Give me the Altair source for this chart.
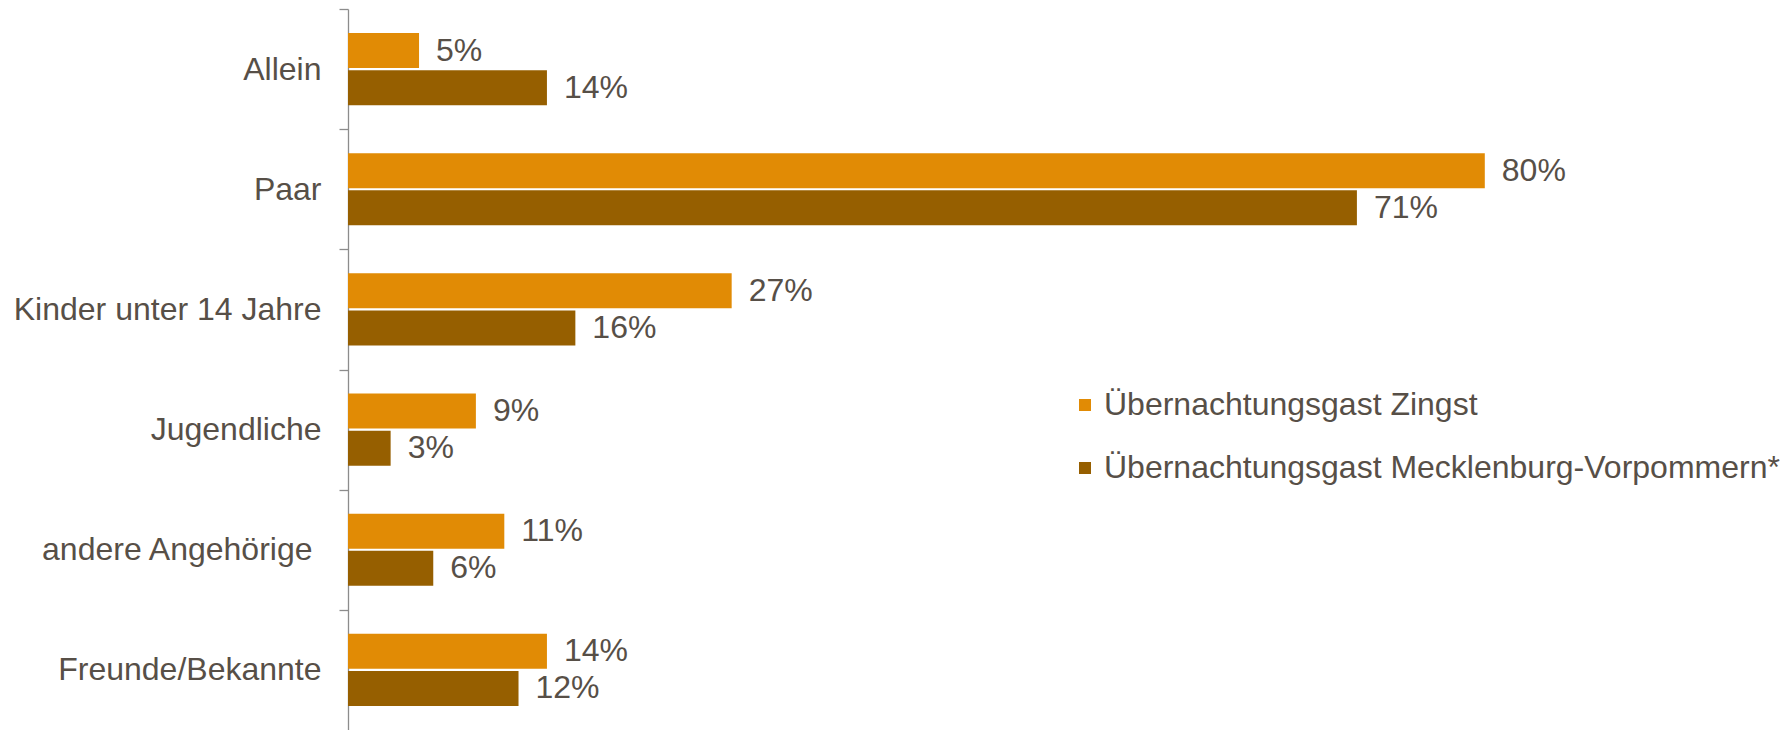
import altair as alt
import pandas as pd

categories = ["Allein", "Paar", "Kinder unter 14 Jahre", "Jugendliche",
              "andere Angehörige ", "Freunde/Bekannte"]
zingst = [5, 80, 27, 9, 11, 14]
mv = [14, 71, 16, 3, 6, 12]
series = ["Übernachtungsgast Zingst", "Übernachtungsgast Mecklenburg-Vorpommern*"]
colors = ["#E18B05", "#965F00"]

rows = []
for c, z, m in zip(categories, zingst, mv):
    rows.append({"cat": c, "series": series[0], "value": z})
    rows.append({"cat": c, "series": series[1], "value": m})
df = pd.DataFrame(rows)
df["label"] = df["value"].astype(str) + "%"

FONT = "Liberation Sans"
TEXT = "#574F47"
AXC = "#8C8C8C"
STEP = 721 / 6.0

# labels whose text ends in a space keep the space's width (as in the reference)
pad_cond = {"condition": {"test": "substring(datum.value, length(datum.value) - 1) == ' '",
                          "value": 27},
            "value": 18}

y = alt.Y("cat:N", sort=categories, title=None,
          scale=alt.Scale(paddingInner=0.4, paddingOuter=0.2),
          axis=alt.Axis(domainColor=AXC, tickColor=AXC,
                        tickSize=9, domainWidth=1.3, tickWidth=1.3,
                        tickOffset=-STEP / 2, labelOffset=STEP / 2,
                        labelFontSize=32, labelFont=FONT, labelColor=TEXT,
                        labelPadding=pad_cond, labelLimit=0))
yoff = alt.YOffset("series:N", sort=series, scale=alt.Scale(paddingInner=0.06))
x = alt.X("value:Q", scale=alt.Scale(domain=[0, 100]), axis=None)

bars = alt.Chart(df).mark_bar().encode(
    x=x, y=y, yOffset=yoff,
    color=alt.Color("series:N", sort=series,
                    scale=alt.Scale(domain=series, range=colors),
                    legend=alt.Legend(title=None, orient="none", legendX=721, legendY=380,
                                      symbolType="square", symbolSize=144,
                                      symbolStrokeWidth=0,
                                      labelFontSize=32, labelFont=FONT, labelColor=TEXT,
                                      rowPadding=31, labelOffset=3, padding=0,
                                      labelLimit=0)),
)
text = alt.Chart(df).mark_text(align="left", baseline="middle", dx=17, font=FONT,
                               fontSize=32, color=TEXT).encode(
    x=x, y=y, yOffset=yoff, text="label:N")

chart = (bars + text).properties(
    width=1421, height=721,
    padding={"left": 348, "top": 9, "right": 21, "bottom": 0},
    autosize=alt.AutoSizeParams(type="none"),
).configure_view(stroke=None)

chart.save("out.html", embed_options={"renderer": "svg", "actions": False})
